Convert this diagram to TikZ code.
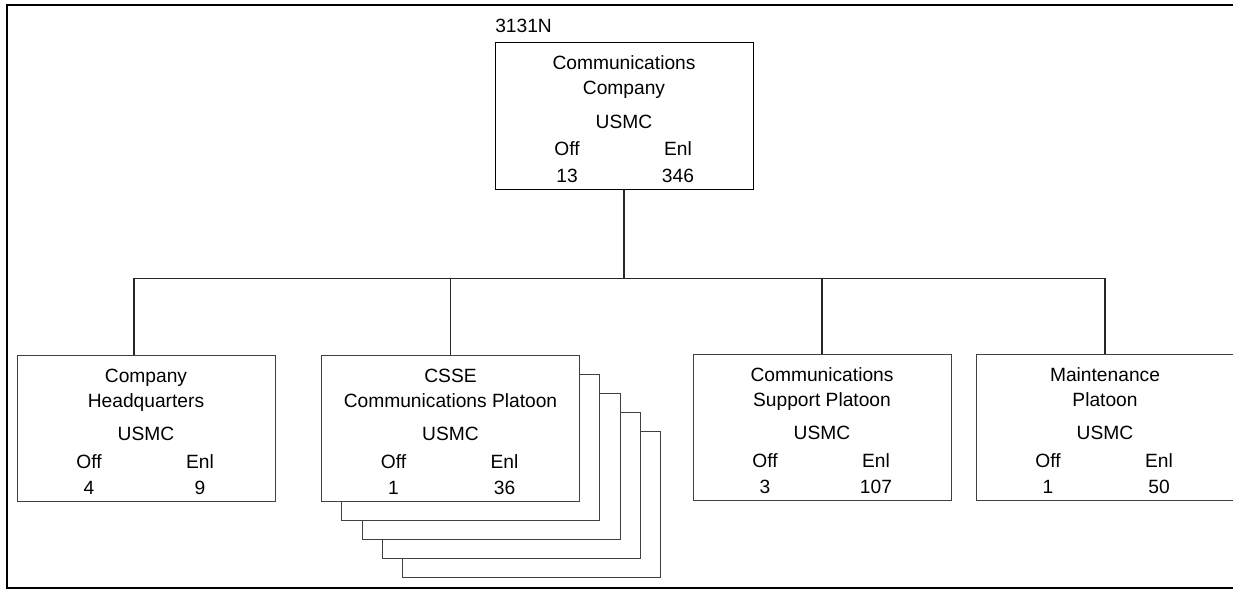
\documentclass[tikz,border=0pt]{standalone}
\usepackage{fontspec}
\setmainfont{Liberation Sans}
\usetikzlibrary{positioning}

\begin{document}
\begin{tikzpicture}[x=0.75pt,y=-0.75pt,
  unit/.style={rectangle,draw=black!75,line width=0.75pt,fill=white,minimum width=193.5pt,minimum height=109.5pt,inner sep=0pt},
  top/.style={unit,draw=black},
  txt/.style={anchor=base,inner sep=0pt,font=\fontsize{14.4}{16}\selectfont},
  conn/.style={draw=black!85,line width=1pt},
  frame/.style={draw=black,line width=1.5pt}]
  % one unit: name, centre x, top y, two name lines, Off, Enl
  \newcommand{\orgunit}[8]{%
    \node[#8] (#1) at (#2,#3+73) {};
    \node[txt] (#1a) at (#2,#3+27) {#4};
    \node[txt] (#1b) at (#2,#3+52) {#5};
    \node[txt] (#1u) at (#2,#3+85) {USMC};
    \node[txt] (#1o) at (#2-57,#3+113) {Off};
    \node[txt] (#1e) at (#2+54,#3+113) {Enl};
    \node[txt] (#1n) at (#2-57,#3+139) {#6};
    \node[txt] (#1m) at (#2+54,#3+139) {#7};}
  \useasboundingbox (0,0) rectangle (1233,592);
  \draw[frame] (7,5) rectangle (1245,588);
  \node[txt,anchor=base west] (code) at (495,33) {3131N};
  \orgunit{cc}{624}{43}{Communications}{Company}{13}{346}{top}
  % stacked copies behind the CSSE platoon
  \foreach \k in {4,3,2,1}
    \node[unit] (csse\k) at (450.5+20.3*\k,428+19*\k) {};
  \orgunit{hq}{146}{355}{Company}{Headquarters}{4}{9}{unit}
  \orgunit{csse}{450.5}{355}{CSSE}{Communications Platoon}{1}{36}{unit}
  \orgunit{csp}{822}{354}{Communications}{Support Platoon}{3}{107}{unit}
  \orgunit{mnt}{1105}{354}{Maintenance}{Platoon}{1}{50}{unit}
  \draw[conn] (cc.south) -- ++(0,89) coordinate (bus);
  \draw[conn] ([xshift=-9pt]hq.north) |- (bus) -| (mnt.north);
  \foreach \u in {csse,csp}
    \draw[conn] (\u.north) -- (\u.north |- bus);
\end{tikzpicture}
\end{document}
